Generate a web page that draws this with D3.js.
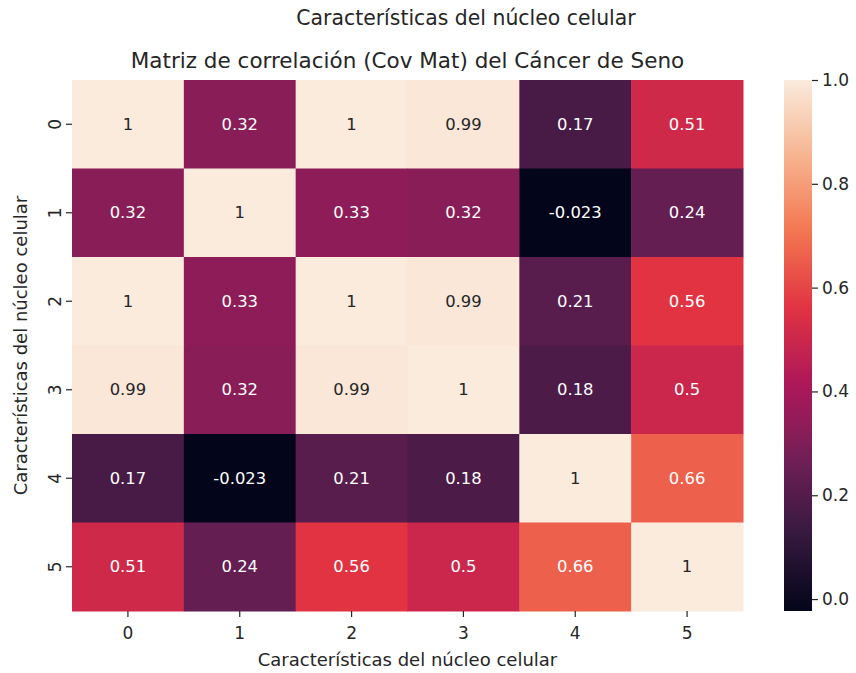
<!DOCTYPE html>
<html><head><meta charset="utf-8">
<script src="https://cdn.jsdelivr.net/npm/d3@7"></script>
<style>body{margin:0;background:#fff;} text{font-family:"DejaVu Sans",sans-serif;}</style>
</head><body><svg id="chart" width="856" height="673"></svg>
<script>
const labels = ["0","1","2","3","4","5"];
const row0 = [1, 0.32, 1, 0.99, 0.17, 0.51];
const row1 = [0.32, 1, 0.33, 0.32, -0.023, 0.24];
const row2 = [1, 0.33, 1, 0.99, 0.21, 0.56];
const row3 = [0.99, 0.32, 0.99, 1, 0.18, 0.5];
const row4 = [0.17, -0.023, 0.21, 0.18, 1, 0.66];
const row5 = [0.51, 0.24, 0.56, 0.5, 0.66, 1];
const matrix = [row0,row1,row2,row3,row4,row5];
const cbTicks = [0.0, 0.2, 0.4, 0.6, 0.8, 1.0];
const rocketPos = [0, 0.143, 0.286, 0.335, 0.429, 0.571, 0.714, 0.857, 1];
const rocketStops = ["#03051a","#35193e","#701f57","#891d58","#ad1759","#e13342","#f37651","#f6b48f","#faebdd"];
const suptitle = "Características del núcleo celular";
const title = "Matriz de correlación (Cov Mat) del Cáncer de Seno";
const xLabel = "Características del núcleo celular";
const yLabel = "Características del núcleo celular";

(function(){
const svg = d3.select("#chart");
const L = 72, R = 743, T = 80, B = 611;
const x = d3.scaleBand().domain(labels).range([L, R]);
const y = d3.scaleBand().domain(labels).range([T, B]);
const vmin = d3.min(matrix.flat()), vmax = d3.max(matrix.flat());
const rocket = d3.scaleLinear().domain(rocketPos).range(rocketStops).interpolate(d3.interpolateRgb);
const norm = d3.scaleLinear().domain([vmin, vmax]).range([0,1]);
const color = v => rocket(norm(v));

const cells = [];
matrix.forEach((r,i)=>r.forEach((v,j)=>cells.push({i,j,v})));
svg.append("g").selectAll("rect").data(cells).join("rect")
  .attr("x", d=>x(labels[d.j])).attr("y", d=>y(labels[d.i]))
  .attr("width", x.bandwidth()+0.5).attr("height", y.bandwidth()+0.5)
  .attr("fill", d=>color(d.v));
function lum(c){const r=d3.rgb(c);const f=u=>{u/=255;return u<=0.03928?u/12.92:Math.pow((u+0.055)/1.055,2.4);};return 0.2126*f(r.r)+0.7152*f(r.g)+0.0722*f(r.b);}
svg.append("g").selectAll("text").data(cells).join("text")
  .attr("x", d=>x(labels[d.j])+x.bandwidth()/2).attr("y", d=>y(labels[d.i])+y.bandwidth()/2)
  .attr("text-anchor","middle").attr("dominant-baseline","central")
  .attr("font-size",16.4).attr("fill", d=>lum(color(d.v))>0.408?"#262626":"#ffffff")
  .text(d=>String(d.v));

const xAxis = svg.append("g").attr("transform",`translate(0,${B})`)
  .call(d3.axisBottom(x).tickSize(6).tickPadding(10));
xAxis.select(".domain").remove();
xAxis.selectAll("text").attr("font-size",17).attr("fill","#262626").style("font-family","DejaVu Sans");
xAxis.selectAll("line").attr("stroke","#262626").attr("stroke-width",1.2);
const yAxis = svg.append("g").attr("transform",`translate(${L},0)`)
  .call(d3.axisLeft(y).tickSize(6).tickPadding(8));
yAxis.select(".domain").remove();
yAxis.selectAll("line").attr("stroke","#262626").attr("stroke-width",1.2);
yAxis.selectAll("text").attr("font-size",17).attr("fill","#262626").style("font-family","DejaVu Sans")
  .attr("text-anchor","middle").attr("dy",null).attr("x",0).attr("y",0)
  .attr("dominant-baseline","central")
  .attr("transform","translate(-17,0) rotate(-90)");

const cbX = 784, cbW = 28;
const cy = d3.scaleLinear().domain([vmin, vmax]).range([B, T]);
const defs = svg.append("defs");
const grad = defs.append("linearGradient").attr("id","cbgrad").attr("x1",0).attr("x2",0).attr("y1",1).attr("y2",0);
d3.range(0,1.0001,0.02).forEach(t=>grad.append("stop").attr("offset",t).attr("stop-color",rocket(t)));
svg.append("rect").attr("x",cbX).attr("y",T).attr("width",cbW).attr("height",B-T).attr("fill","url(#cbgrad)");
const cbAxis = svg.append("g").attr("transform",`translate(${cbX+cbW},0)`)
  .call(d3.axisRight(cy).tickValues(cbTicks).tickFormat(d3.format(".1f")).tickSize(6).tickPadding(4));
cbAxis.select(".domain").remove();
cbAxis.selectAll("line").attr("stroke","#262626").attr("stroke-width",1.2);
cbAxis.selectAll("text").attr("font-size",17).attr("fill","#262626").style("font-family","DejaVu Sans");

svg.append("text").attr("x",466).attr("y",25).attr("text-anchor","middle").attr("font-size",20.4).attr("fill","#262626").text(suptitle);
svg.append("text").attr("x",(L+R)/2).attr("y",68).attr("text-anchor","middle").attr("font-size",21.5).attr("fill","#262626").text(title);
svg.append("text").attr("x",(L+R)/2).attr("y",666).attr("text-anchor","middle").attr("font-size",18).attr("fill","#262626").text(xLabel);
svg.append("text").attr("transform",`translate(27,${(T+B)/2}) rotate(-90)`).attr("text-anchor","middle").attr("font-size",18).attr("fill","#262626").text(yLabel);
})();
</script></body></html>
